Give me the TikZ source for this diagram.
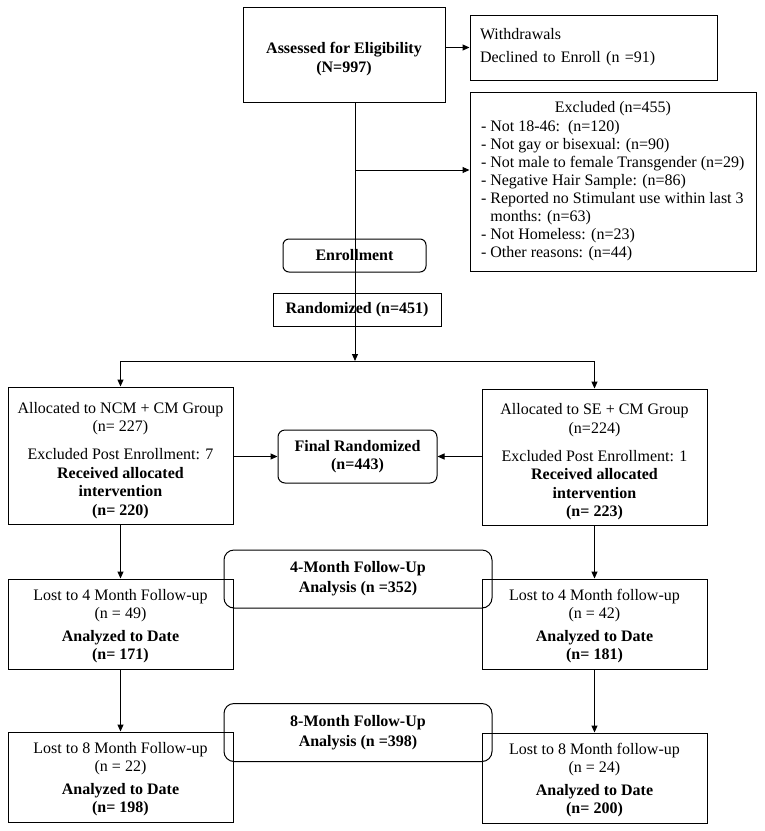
\documentclass[tikz,border=0pt]{standalone}
\usepackage{fontspec}
\setmainfont{Liberation Serif}
\usetikzlibrary{arrows.meta,calc}
\newcommand\topstrut[1]{\rule{0pt}{#1}}
\tikzset{
  box/.style={draw, line width=1pt, inner sep=0pt, align=center,
    font=\fontsize{16}{18.3}\selectfont},
  rbox/.style={box, rounded corners=7pt},
  arr/.style={line width=1pt, -{Triangle[length=7pt,width=6pt]}},
  ln/.style={line width=1pt}
}
\begin{document}
\begin{tikzpicture}[x=1pt,y=-1pt]
\useasboundingbox (0,0) rectangle (764,831);
% top
\node[box, minimum width=202pt, minimum height=95pt, font=\fontsize{16}{19}\selectfont] (assess) at (344,54.5)
  {\topstrut{19.5pt}\textbf{Assessed for Eligibility}\\\textbf{(N=997)}};
\node[box, minimum width=247pt, minimum height=65pt, text width=227pt, inner xsep=10pt, align=left] (wd) at (593.5,47.5)
  {Withdrawals\\[4.7pt]Declined to Enroll (n =91)};
\node[box, minimum width=286pt, minimum height=179pt, inner xsep=11pt, align=left,
  font=\fontsize{16}{18.1}\selectfont] (excl) at (613,181.5)
  {\makebox[264pt]{Excluded (n=455)}\\
   - Not 18-46:\ \ (n=120)\\
   - Not gay or bisexual: (n=90)\\
   - Not male to female Transgender (n=29)\\
   - Negative Hair Sample: (n=86)\\
   - Reported no Stimulant use within last 3\\
   \phantom{- }months: (n=63)\\
   - Not Homeless: (n=23)\\
   - Other reasons: (n=44)};
\node[rbox, rounded corners=6pt, minimum width=143pt, minimum height=33pt] (enr) at (354.5,255.5)
  {\textbf{Enrollment}};
\node[box, minimum width=168pt, minimum height=33pt] (rand) at (357,309.5)
  {\textbf{Randomized (n=451)}};
% allocation
\node[box, minimum width=225pt, minimum height=137pt, font=\fontsize{16}{18.5}\selectfont] (alL) at (120.5,455.5)
  {\topstrut{20.5pt}Allocated to NCM + CM Group\\(n= 227)\\[9.5pt]Excluded Post Enrollment: 7\\
   \textbf{Received allocated}\\\textbf{intervention}\\\textbf{(n= 220)}};
\node[box, minimum width=225pt, minimum height=136pt, font=\fontsize{16}{18.5}\selectfont] (alR) at (594.5,457)
  {\topstrut{20.5pt}Allocated to SE + CM Group\\(n=224)\\[9.5pt]Excluded Post Enrollment: 1\\
   \textbf{Received allocated}\\\textbf{intervention}\\\textbf{(n= 223)}};
\node[rbox, minimum width=159pt, minimum height=53pt] (final) at (357.5,456.5)
  {\textbf{Final Randomized}\\\textbf{(n=443)}};
% follow-up
\node[box, minimum width=225pt, minimum height=90pt, font=\fontsize{16}{18}\selectfont] (lfL) at (120.5,624)
  {\topstrut{14.5pt}Lost to 4 Month Follow-up\\(n = 49)\\[5pt]\textbf{Analyzed to Date}\\\textbf{(n= 171)}};
\node[box, minimum width=225pt, minimum height=90pt, font=\fontsize{16}{18}\selectfont] (lfR) at (594.5,624)
  {\topstrut{14.5pt}Lost to 4 Month follow-up\\(n = 42)\\[5pt]\textbf{Analyzed to Date}\\\textbf{(n= 181)}};
\node[rbox, rounded corners=10pt, minimum width=268pt, minimum height=58pt, font=\fontsize{16}{20}\selectfont] (fu4) at (358,579)
  {\textbf{4-Month Follow-Up}\\\textbf{Analysis (n =352)}};
\node[box, minimum width=225pt, minimum height=90pt, font=\fontsize{16}{18}\selectfont] (leL) at (120.5,777)
  {\topstrut{14.5pt}Lost to 8 Month Follow-up\\(n = 22)\\[5pt]\textbf{Analyzed to Date}\\\textbf{(n= 198)}};
\node[box, minimum width=225pt, minimum height=90pt, font=\fontsize{16}{18}\selectfont] (leR) at (594.5,778)
  {\topstrut{14.5pt}Lost to 8 Month follow-up\\(n = 24)\\[5pt]\textbf{Analyzed to Date}\\\textbf{(n= 200)}};
\node[rbox, rounded corners=10pt, minimum width=268pt, minimum height=58pt, font=\fontsize{16}{20}\selectfont] (fu8) at (358,732.5)
  {\textbf{8-Month Follow-Up}\\\textbf{Analysis (n =398)}};
% connectors
\coordinate (split) at (355,361);
\coordinate (br) at (355,170);
\draw[arr] (assess.east |- wd.west) -- (wd.west);
\draw[arr] (assess.south -| split) -- (split);
\draw[arr] (br) -- (br -| excl.west);
\draw[ln] (split -| alL) -- (split -| alR);
\draw[arr] (split -| alL) -- (alL.north);
\draw[arr] (split -| alR) -- (alR.north);
\draw[arr] (alL.east |- final.west) -- (final.west);
\draw[arr] (alR.west |- final.east) -- (final.east);
\draw[arr] (alL.south) -- (lfL.north);
\draw[arr] (alR.south) -- (lfR.north);
\draw[arr] (lfL.south) -- (leL.north);
\draw[arr] (lfR.south) -- (leR.north);
\end{tikzpicture}
\end{document}
